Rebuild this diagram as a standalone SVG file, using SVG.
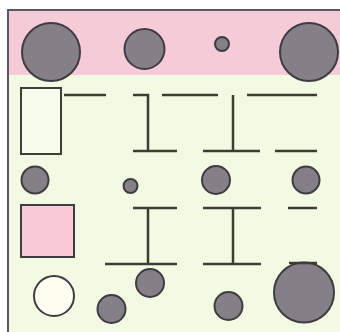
<svg xmlns="http://www.w3.org/2000/svg" width="340" height="332" viewBox="0 0 340 332">
<style>
.bg{fill:#f3fae3}
.band{fill:#f6cbd8}
.frame{fill:none;stroke:#5a5a66;stroke-width:2}
.c{fill:#858088;stroke:#3e3c40;stroke-width:2}
.w{fill:#fffdf0;stroke:#3e3c40;stroke-width:2}
.box{fill:#f8fcec;stroke:#3e4038;stroke-width:2}
.pbox{fill:#f8c9d6;stroke:#3e3c40;stroke-width:2}
.ln{stroke:#3a3f36;stroke-width:2.5;fill:none}
</style>
<rect x="0" y="0" width="340" height="332" fill="#ffffff"/>
<rect class="bg" x="8" y="10" width="332" height="322"/>
<rect class="band" x="8" y="10" width="332" height="65"/>
<path class="frame" d="M8,332 V10 H340"/>
<g id="top-circle-1"><circle class="c" cx="51" cy="52" r="29"/></g>
<g id="top-circle-2"><circle class="c" cx="144.5" cy="49" r="20"/></g>
<g id="top-circle-3"><circle class="c" cx="222" cy="44" r="7"/></g>
<g id="top-circle-4"><circle class="c" cx="309" cy="52" r="29"/></g>
<g id="open-box"><rect class="box" x="21" y="88" width="40" height="66"/></g>
<g id="mid-circle-1"><circle class="c" cx="35" cy="180" r="13.5"/></g>
<g id="mid-circle-2"><circle class="c" cx="130.5" cy="186" r="7"/></g>
<g id="mid-circle-3"><circle class="c" cx="216" cy="180" r="14"/></g>
<g id="mid-circle-4"><circle class="c" cx="306" cy="180" r="13.5"/></g>
<g id="pink-box"><rect class="pbox" x="21" y="205" width="53" height="52"/></g>
<g id="white-circle"><circle class="w" cx="54" cy="296" r="20"/></g>
<g id="bottom-circle-1"><circle class="c" cx="111.5" cy="309" r="14"/></g>
<g id="bottom-circle-2"><circle class="c" cx="150" cy="283" r="14"/></g>
<g id="bottom-circle-3"><circle class="c" cx="228.5" cy="306" r="14"/></g>
<g id="bottom-circle-4"><circle class="c" cx="304" cy="292.5" r="30"/></g>
<g id="connectors">
<path class="ln" d="M64,95 H106"/>
<path class="ln" d="M133,95 H148 V151 M133,151 H177"/>
<path class="ln" d="M162,95 H218"/>
<path class="ln" d="M233,95 V151 M203,151 H260"/>
<path class="ln" d="M247,95 H317"/>
<path class="ln" d="M275,151 H317"/>
<path class="ln" d="M133,208 H177 M148,208 V264 M105,264 H177"/>
<path class="ln" d="M203,208 H261 M233,208 V264 M203,264 H261"/>
<path class="ln" d="M288,208 H317"/>
<path class="ln" d="M289,263 H317"/>
</g>
</svg>
